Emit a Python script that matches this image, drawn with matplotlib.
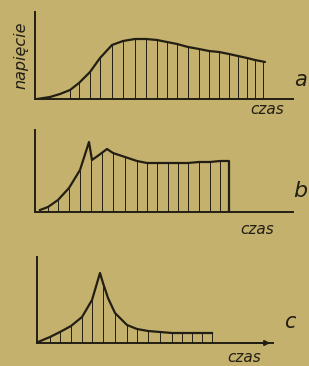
import numpy as np
import matplotlib.pyplot as plt

# panel a: napięcie vs czas (values read in pixels from the scan)
a_t = [2, 15, 25, 35, 44, 55, 65, 77, 88, 100, 111, 122, 132, 142, 153, 164, 174, 184, 194, 203, 212, 220, 230]
a_v = [0, 2, 5, 9, 16, 27, 41, 54, 58, 60, 60, 59, 57, 55, 52, 50, 48, 47, 45, 43, 41, 39, 37]
a_hatch_t = [35, 44, 55, 65, 77, 88, 100, 111, 122, 132, 142, 153, 164, 174, 184, 194, 203, 212, 220, 228]
a_hatch_v = [9, 16, 27, 41, 54, 58, 60, 60, 59, 57, 55, 52, 50, 48, 47, 45, 43, 41, 39, 37]

# panel b
b_t = [5, 13, 23, 34, 45, 54, 57, 64, 72, 78, 90, 102, 112, 122, 133, 143, 153, 164, 175, 185, 194, 194]
b_v = [2, 5, 12, 24, 42, 70, 52, 57, 63, 59, 55, 51, 49, 49, 49, 49, 49, 50, 50, 51, 51, 0]
b_hatch_t = [13, 23, 34, 45, 56, 67, 78, 90, 102, 112, 122, 133, 143, 153, 164, 175, 185, 194]
b_hatch_v = [5, 12, 24, 42, 54, 60, 59, 55, 51, 49, 49, 49, 49, 49, 50, 50, 51, 51]

# panel c
c_t = [1, 13, 23, 34, 45, 55, 63, 66, 71, 78, 90, 100, 111, 123, 135, 145, 155, 165, 175]
c_v = [1, 6, 11, 17, 26, 43, 70, 60, 45, 30, 18, 14, 12, 11, 10, 10, 10, 10, 10]
c_hatch_t = [13, 23, 34, 45, 55, 66, 78, 90, 100, 111, 123, 135, 145, 155, 165, 175]
c_hatch_v = [6, 11, 17, 26, 43, 60, 30, 18, 14, 12, 11, 10, 10, 10, 10, 10]

bg = '#c3b16d'
ink = '#231e14'
W, H = 309, 366

fig = plt.figure(figsize=(W / 100, H / 100), dpi=100)
fig.patch.set_facecolor(bg)


def panel(x0, x1, ytop, ybot):
    # axes box given in image pixels
    ax = fig.add_axes([x0 / W, 1 - ybot / H, (x1 - x0) / W, (ybot - ytop) / H])
    ax.set_xlim(0, x1 - x0)
    ax.set_ylim(0, ybot - ytop)
    ax.set_facecolor('none')
    for s in ['top', 'right']:
        ax.spines[s].set_visible(False)
    for s in ['left', 'bottom']:
        ax.spines[s].set_color(ink)
        ax.spines[s].set_linewidth(1.4)
    ax.set_xticks([])
    ax.set_yticks([])
    return ax


txt = dict(color=ink, style='italic', family='DejaVu Sans')

ax = panel(35, 293, 12, 99)
ax.plot(a_t, a_v, color=ink, lw=1.6, solid_capstyle='round')
ax.vlines(a_hatch_t, 0, a_hatch_v, color=ink, lw=0.7)
ax.text(-14, 44, 'napięcie', rotation=90, ha='center', va='center', fontsize=11.5, **txt)
ax.text(232, -11, 'czas', ha='center', va='center', fontsize=11, **txt)
ax.text(266, 19, 'a', ha='center', va='center', fontsize=15, clip_on=False, **txt)

ax = panel(35, 293, 130, 212)
ax.plot(b_t, b_v, color=ink, lw=1.6)
ax.vlines(b_hatch_t, 0, b_hatch_v, color=ink, lw=0.7)
ax.text(222, -18, 'czas', ha='center', va='center', fontsize=11, **txt)
ax.text(265, 21, 'b', ha='center', va='center', fontsize=16, **txt)

ax = panel(37, 273, 257, 343)
ax.plot(c_t, c_v, color=ink, lw=1.6)
ax.vlines(c_hatch_t, 0, c_hatch_v, color=ink, lw=0.7)
ax.annotate('', xy=(236, 0), xytext=(200, 0),
            arrowprops=dict(arrowstyle='-|>', color=ink, lw=1.2, mutation_scale=8))
ax.text(207, -15, 'czas', ha='center', va='center', fontsize=11, **txt)
ax.text(253, 21, 'c', ha='center', va='center', fontsize=15, **txt)

fig.savefig('out.png', dpi=100, facecolor=bg)
